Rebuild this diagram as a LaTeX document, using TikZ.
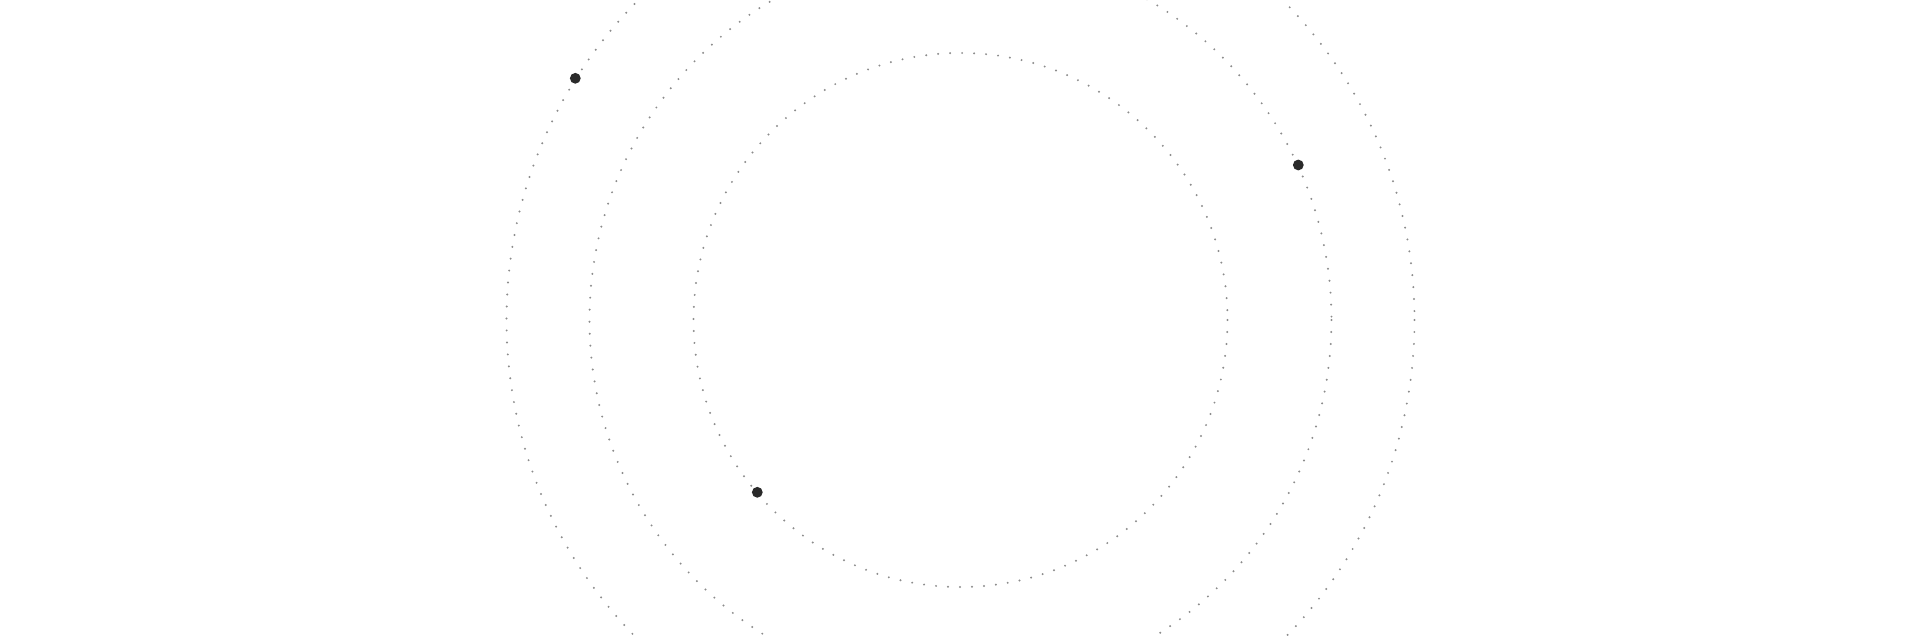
\documentclass[tikz,border=0pt]{standalone}
\definecolor{ringgray}{HTML}{8C8C8C}
\definecolor{dotdark}{HTML}{2A2A2A}
\tikzset{
  ring/.style={draw=ringgray, line width=1.1pt, line cap=round, dash pattern=on 0pt off 6pt},
  planet/.style={circle, fill=dotdark, inner sep=0pt, minimum size=5.4pt}
}
\begin{document}
\begin{tikzpicture}[x=0.5pt,y=-0.5pt]
\useasboundingbox (0,0) rectangle (1920,636);
\coordinate (c) at (960.5,320);
\draw[ring] (c) circle[radius=267];
\draw[ring] (c) circle[radius=371];
\draw[ring] (c) circle[radius=454];
\node[planet] (p1) at (575.3,78.3) {};
\node[planet] (p2) at (1298.3,165) {};
\node[planet] (p3) at (757.3,492.3) {};
\end{tikzpicture}
\end{document}
